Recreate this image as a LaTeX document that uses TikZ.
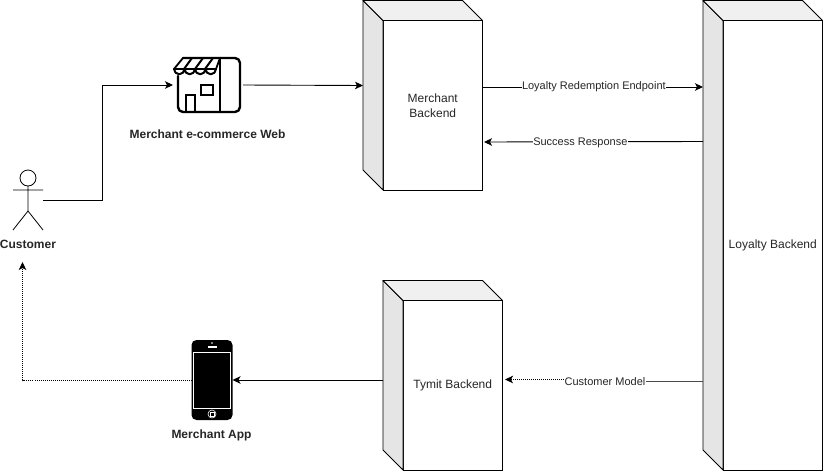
\documentclass[tikz,border=0pt]{standalone}
\usepackage{fontspec}
\setmainfont{Liberation Sans}
\usetikzlibrary{arrows.meta}
\tikzset{
  front/.style={draw=black,fill=white,line width=0.9pt,inner sep=0pt,outer sep=0pt,align=center,font=\fontsize{12}{15}\selectfont,text=black!85},
  sideface/.style={draw=black,fill=black!10,line width=0.9pt,line join=round},
  topface/.style={draw=black,fill=black!6,line width=0.9pt,line join=round},
  flow/.style={draw=black,line width=0.9pt,-{Stealth[length=8pt,width=7.5pt,inset=2pt]}},
  dots/.style={flow,dash pattern=on 1pt off 1pt},
  flowlabel/.style={fill=white,inner sep=0.5pt,font=\fontsize{11}{13}\selectfont,text=black!85},
  caption/.style={inner sep=0pt,font=\bfseries\fontsize{12}{14}\selectfont,text=black!85},
  icon/.style={line width=2.4pt,line join=round,line cap=round},
  holder/.style={inner sep=0pt,outer sep=0pt}
}
% name, left, top, full width, full height, text
\newcommand{\cubebox}[6]{
  \node[front,minimum width={(#4-20)*1pt},minimum height={(#5-20)*1pt}] (#1) at ({#2+20+(#4-20)/2},{#3+20+(#5-20)/2}) {#6};
  \draw[sideface] (#1.north west) -- ++(-20,-20) -- ++(0,#5-20) -- (#1.south west) -- cycle;
  \draw[topface] (#1.north west) -- ++(-20,-20) -- ++(#4-20,0) -- (#1.north east) -- cycle;
}
\begin{document}
\begin{tikzpicture}[x=1pt,y=-1pt]
  \useasboundingbox (0,0) rectangle (824,471);
  % Backends
  \cubebox{merchantback}{363}{0.5}{119.5}{189.5}{Merchant\\Backend}
  \cubebox{loyaltyback}{703}{0.5}{119.5}{469.5}{Loyalty Backend}
  \cubebox{tymitback}{383}{280.5}{119.5}{189.5}{Tymit Backend}
  % Customer
  \node[holder,minimum width=30pt,minimum height=60pt] (customer) at (28,200) {};
  \draw[line width=0.8pt] (customer.north) ++(0,8) circle (8);
  \draw[line width=0.8pt] (28,186) -- (28,211) (13,190) -- (43,190) (13,230) -- (28,211) -- (43,230);
  \node[caption] (customerlabel) at (28,244) {Customer};
  % Store
  \node[holder,minimum width=70pt,minimum height=56pt] (store) at (208,85) {};
  \draw[icon,rounded corners=5pt] (178,76) -- (178,112) -- (240,112) -- (240,58) -- (183,58);
  \draw[icon] (220,58) -- (220,112);
  \draw[icon,line width=1.8pt] (183,58) -- (220,58) -- (216,69);
  \draw[icon,line width=1.8pt] (174,69) -- (183,58);
  \draw[icon,line width=1.8pt] (174,69) -- (216,69);
  \draw[icon,line width=2pt] (184,69) -- (192,58) (195,69) -- (203,58) (205,69) -- (213,58);
  \draw[icon,line width=2pt] (174,69) arc[start angle=180,end angle=0,radius=5.25] arc[start angle=180,end angle=0,radius=5.25] arc[start angle=180,end angle=0,radius=5.25] arc[start angle=180,end angle=0,radius=5.25];
  \draw[line width=1.8pt] (186,112) -- (186,95) -- (195,95) -- (195,112);
  \draw[line width=1.8pt] (201,85) rectangle (213,95);
  \node[caption] (storelabel) at (207.5,134) {Merchant e-commerce Web};
  % Phone
  \node[holder,fill=black,rounded corners=5pt,minimum width=41pt,minimum height=80pt] (phone) at (212,380) {};
  \draw[white,line width=0.5pt] (193.7,352) rectangle (230,408);
  \fill[white] (207.5,346.2) rectangle (216.5,348.2);
  \fill[white] (212,343) circle (0.8);
  \draw[white,line width=0.6pt] (212,414) circle (4);
  \draw[white,line width=0.5pt] (210,412) rectangle (214,416);
  \node[caption] (phonelabel) at (211.5,435) {Merchant App};
  % Connector ends on the cubes and the customer
  \coordinate (customerout) at (43,200);
  \coordinate (customerin) at (22.5,262);
  \coordinate (bendone) at (102.5,200);
  \coordinate (bendtwo) at (102.5,85);
  \coordinate (bendthree) at (22.5,380.5);
  \coordinate (merchantin) at (363,85.5);
  \coordinate (merchantout) at (482.5,87);
  \coordinate (merchantback2) at (484,142);
  \coordinate (loyaltyin) at (703,87);
  \coordinate (loyaltyout) at (703,141.5);
  \coordinate (loyaltymodel) at (703,381);
  \coordinate (tymitin) at (505,379.5);
  \coordinate (tymitout) at (383,380);
  % Connectors
  \draw[flow] (customerout) -- (bendone) -- (bendtwo) -- (store.west);
  \draw[flow] (store.east |- bendtwo) -- (merchantin);
  \draw[flow] (merchantout) -- node[flowlabel,pos=0.505] (endpointlabel) {Loyalty Redemption Endpoint} (loyaltyin);
  \draw[flow] (loyaltyout) -- node[flowlabel,pos=0.56,yshift=-1pt] (successlabel) {Success Response} (merchantback2);
  \node[flowlabel] (modellabel) at (605,382) {Customer Model};
  \draw[line width=0.9pt,black!70] (loyaltymodel) -- (modellabel.east |- loyaltymodel);
  \draw[dots] (modellabel.west |- tymitin) -- (tymitin);
  \draw[flow] (tymitout) -- (phone.east |- tymitout);
  \draw[dots] (phone.west |- bendthree) -- (bendthree) -- (customerin);
\end{tikzpicture}
\end{document}
